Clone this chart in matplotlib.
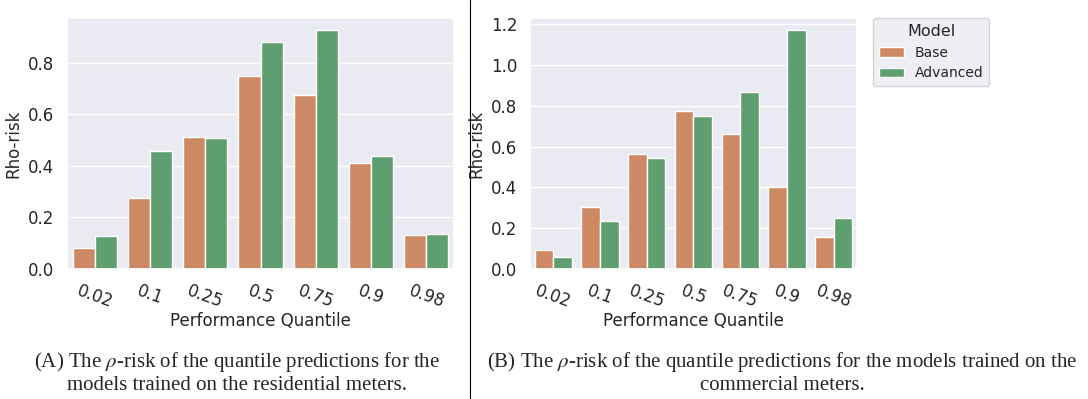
import numpy as np
import pandas as pd
import matplotlib
matplotlib.use("Agg")
import matplotlib.pyplot as plt
import seaborn as sns

# -----------------------------
# Data
# -----------------------------
quantiles = ["0.02", "0.1", "0.25", "0.5", "0.75", "0.9", "0.98"]
models = ["Base", "Advanced"]

res_base = [0.083, 0.276, 0.511, 0.751, 0.676, 0.410, 0.132]
res_advanced = [0.129, 0.457, 0.510, 0.880, 0.928, 0.439, 0.136]

com_base = [0.091, 0.302, 0.565, 0.772, 0.661, 0.403, 0.155]
com_advanced = [0.059, 0.237, 0.542, 0.748, 0.869, 1.171, 0.251]

colors = ["#CD8963", "#5F9E6E"]


def to_frame(base, advanced):
    return pd.DataFrame({
        "Performance Quantile": quantiles * 2,
        "Rho-risk": base + advanced,
        "Model": ["Base"] * len(base) + ["Advanced"] * len(advanced),
    })


# -----------------------------
# Plot
# -----------------------------
sns.set_theme(style="darkgrid")
plt.rcParams["font.family"] = ["DejaVu Sans"]
plt.rcParams["mathtext.fontset"] = "stix"

fig = plt.figure(figsize=(10.88, 3.99), dpi=100)
ax1 = fig.add_axes([0.0616, 0.3258, 0.3557, 0.629])
ax2 = fig.add_axes([0.4871, 0.3258, 0.3006, 0.629])

for ax, base, adv in [(ax1, res_base, res_advanced), (ax2, com_base, com_advanced)]:
    df = to_frame(base, adv)
    sns.barplot(data=df, x="Performance Quantile", y="Rho-risk", hue="Model",
                hue_order=models, palette=colors, saturation=1,
                edgecolor="white", linewidth=1, ax=ax)
    ax.tick_params(axis="both", labelsize=12, pad=3)
    ax.set_xlabel("Performance Quantile", fontsize=12, labelpad=1)
    ax.set_ylabel("Rho-risk", fontsize=12, labelpad=4)
    for lbl in ax.get_xticklabels():
        lbl.set_rotation(-20)
        lbl.set_ha("center")
        lbl.set_va("top")

ax1.get_legend().remove()
ax2.legend(title="Model", loc="upper left", bbox_to_anchor=(1.05, 1.0),
           fontsize=10, title_fontsize=11.5, borderaxespad=0,
           handlelength=1.8, handletextpad=0.8)

# vertical divider between the two panels
fig.add_artist(plt.Line2D([0.432, 0.432], [0, 1], color="black", lw=0.8,
                          transform=fig.transFigure))

# captions
cap = dict(family="Liberation Serif", fontsize=15, ha="center", va="center")
fig.text(0.218, 0.093, r"(A) The $\rho$-risk of the quantile predictions for the", **cap)
fig.text(0.218, 0.033, "models trained on the residential meters.", **cap)
fig.text(0.719, 0.093, r"(B) The $\rho$-risk of the quantile predictions for the models trained on the", **cap)
fig.text(0.719, 0.033, "commercial meters.", **cap)

fig.savefig("out.png", dpi=100)
